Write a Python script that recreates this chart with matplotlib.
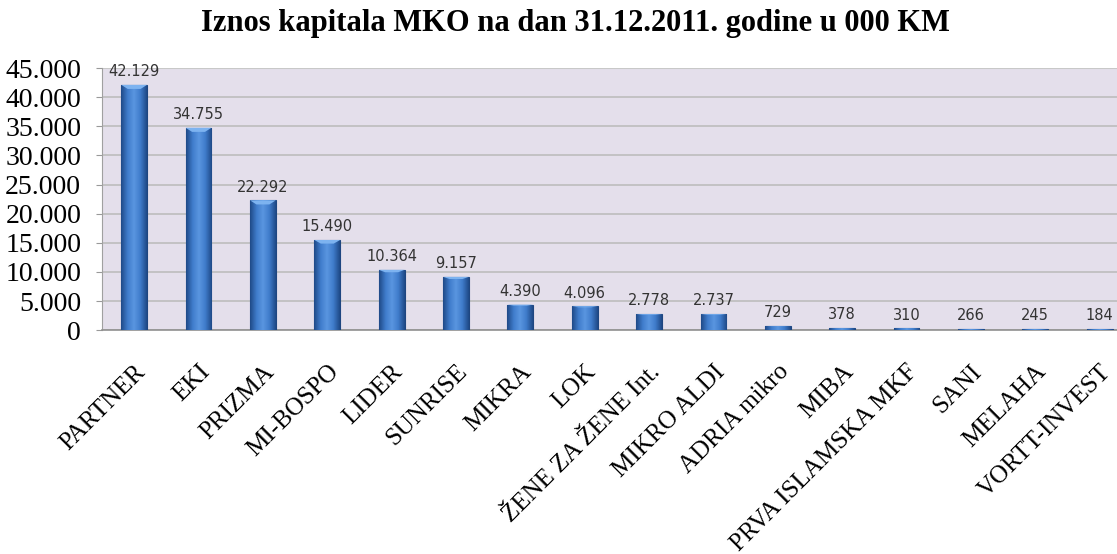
import numpy as np
import matplotlib
matplotlib.use('Agg')
import matplotlib.pyplot as plt
from matplotlib.colors import LinearSegmentedColormap

names = ['PARTNER', 'EKI', 'PRIZMA', 'MI-BOSPO', 'LIDER', 'SUNRISE', 'MIKRA', 'LOK',
         'ŽENE ZA ŽENE Int.', 'MIKRO ALDI', 'ADRIA mikro', 'MIBA',
         'PRVA ISLAMSKA MKF', 'SANI', 'MELAHA', 'VORTT-INVEST']
capital = [42129, 34755, 22292, 15490, 10364, 9157, 4390, 4096,
           2778, 2737, 729, 378, 310, 266, 245, 184]
yticks = np.arange(0, 45001, 5000)


def fmt(v):
    return f'{v:,}'.replace(',', '.')


plt.rcParams['font.family'] = ['Liberation Serif', 'DejaVu Serif']

fig = plt.figure(figsize=(11.17, 5.54), dpi=100)
ax = fig.add_axes([0.0913, 0.404, 0.922, 0.473])
ax.set_facecolor('#E4DFEB')

x = np.arange(len(names))
w = 0.4
bars = ax.bar(x, capital, width=w, color='#3A74C2', edgecolor='#1E4680', linewidth=0.8, zorder=3)

# horizontal shading to mimic the bevelled bars
cmap = LinearSegmentedColormap.from_list('bev', ['#1F4A88', '#3F7CCB', '#5A96E0', '#3F7CCB', '#1F4A88'])
grad = np.linspace(0, 1, 64).reshape(1, -1)
for b, v in zip(bars, capital):
    im = ax.imshow(grad, cmap=cmap, aspect='auto', zorder=4,
                   extent=[b.get_x(), b.get_x() + w, 0, v])
    im.set_clip_path(b)
    cap = min(v * 0.04, 700)
    ax.fill([b.get_x(), b.get_x() + w, b.get_x() + w * 0.75, b.get_x() + w * 0.25],
            [v, v, v - cap, v - cap], color='#7DB3F0', lw=0, zorder=5)
    ax.text(b.get_x() + w / 2, v + 1000, fmt(v), ha='center', va='bottom',
            fontsize=10.5, color='#333333', family='DejaVu Sans', zorder=6, clip_on=False)

ax.set_xlim(-0.5, len(names) - 0.5)
ax.set_ylim(0, 45000)
ax.set_yticks(yticks)
ax.set_yticklabels([fmt(v) for v in yticks], fontsize=20)
ax.yaxis.grid(True, color='#BDBDBD', linewidth=1.2, zorder=1)
ax.set_axisbelow(True)
ax.set_xticks(x)
ax.set_xticklabels(names, rotation=45, ha='right', va='top', rotation_mode='anchor', fontsize=18)
ax.tick_params(axis='x', length=0, pad=22)
ax.tick_params(axis='y', length=4, color='#999999', pad=11)
for s in ['top', 'right']:
    ax.spines[s].set_visible(False)
ax.spines['left'].set_color('#A0A0A0')
ax.spines['bottom'].set_color('#909090')
ax.spines['bottom'].set_linewidth(1.2)
ax.axhline(45000, color='#C8C8C8', lw=1.5, zorder=1)

fig.text(0.515, 0.958, 'Iznos kapitala MKO na dan 31.12.2011. godine u 000 KM',
         ha='center', va='center', fontsize=22, fontweight='bold')

fig.savefig('out.png', dpi=100)
